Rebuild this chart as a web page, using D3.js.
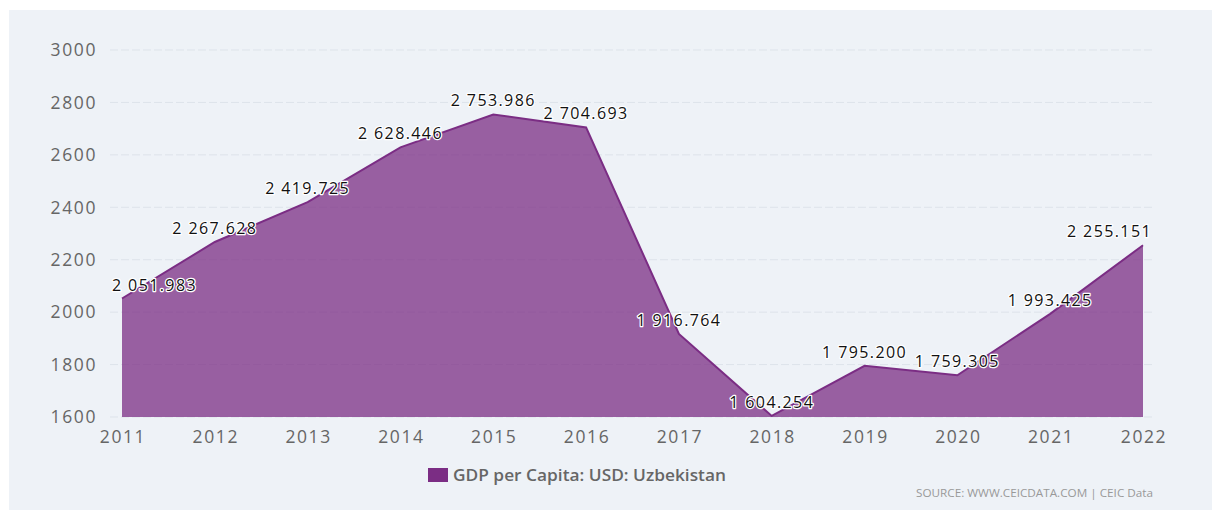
<!DOCTYPE html>
<html>
<head>
<meta charset="utf-8">
<script src="https://cdn.jsdelivr.net/npm/d3@7"></script>
<style>
  body { margin: 0; background: #fff; }
  svg { display: block; }
</style>
</head>
<body>
<div id="chart"></div>
<script>
const years = [2011, 2012, 2013, 2014, 2015, 2016, 2017, 2018, 2019, 2020, 2021, 2022];
const gdpValues = [2051.983, 2267.628, 2419.725, 2628.446, 2753.986, 2704.693, 1916.764, 1604.254, 1795.200, 1759.305, 1993.425, 2255.151];
const yTicks = [1600, 1800, 2000, 2200, 2400, 2600, 2800, 3000];
const seriesName = 'GDP per Capita: USD: Uzbekistan';
const sourceText = 'SOURCE: WWW.CEICDATA.COM | CEIC Data';

const width = 1213, height = 513;
const seriesColor = '#7b2d84';

const fmt = d3.formatLocale({decimal: '.', thousands: ' ', grouping: [3], currency: ['', '']}).format(',.3f');

const svg = d3.select('#chart').append('svg')
    .attr('width', width)
    .attr('height', height);

// panel background
svg.append('rect')
    .attr('x', 9).attr('y', 10)
    .attr('width', 1203).attr('height', 500)
    .attr('fill', '#eef2f7');

const xScale = d3.scaleLinear()
    .domain([2011, 2022])
    .range([122, 1143]);
const yScale = d3.scaleLinear()
    .domain([1600, 3000])
    .range([417, 50]);

// grid lines
svg.append('g').selectAll('line')
    .data(yTicks)
    .enter().append('line')
    .attr('x1', 110).attr('x2', 1155)
    .attr('y1', d => yScale(d)).attr('y2', d => yScale(d))
    .attr('stroke', '#dde3ea')
    .attr('stroke-width', 1)
    .attr('stroke-dasharray', '8,3');

// y labels
svg.append('g').selectAll('text')
    .data(yTicks)
    .enter().append('text')
    .attr('x', 97)
    .attr('y', d => yScale(d))
    .attr('dy', '0.36em')
    .attr('text-anchor', 'end')
    .attr('font-family', 'Open Sans')
    .attr('font-size', 17.5)
    .attr('letter-spacing', 1.6)
    .attr('fill', '#666')
    .text(d => d);

// x labels
svg.append('g').selectAll('text')
    .data(years)
    .enter().append('text')
    .attr('x', d => xScale(d) + 1)
    .attr('y', 443)
    .attr('text-anchor', 'middle')
    .attr('font-family', 'Open Sans')
    .attr('font-size', 17.5)
    .attr('letter-spacing', 1.6)
    .attr('fill', '#666')
    .text(d => d);

const points = years.map((y, i) => ({year: y, value: gdpValues[i]}));

const area = d3.area()
    .x(d => xScale(d.year))
    .y0(yScale(1600))
    .y1(d => yScale(d.value));
const line = d3.line()
    .x(d => xScale(d.year))
    .y(d => yScale(d.value));

svg.append('path')
    .datum(points)
    .attr('d', area)
    .attr('fill', seriesColor)
    .attr('fill-opacity', 0.75);
svg.append('path')
    .datum(points)
    .attr('d', line)
    .attr('fill', 'none')
    .attr('stroke', seriesColor)
    .attr('stroke-width', 2);

// data labels (kept inside plot area)
const labels = svg.append('g').selectAll('text')
    .data(points)
    .enter().append('text')
    .attr('x', d => xScale(d.year))
    .attr('y', d => yScale(d.value) - 8)
    .attr('text-anchor', 'middle')
    .attr('font-family', 'Open Sans')
    .attr('font-size', 16)
    .attr('letter-spacing', 1.4)
    .attr('fill', '#111')
    .attr('stroke', '#fff')
    .attr('stroke-width', 2.5)
    .attr('stroke-linejoin', 'round')
    .attr('paint-order', 'stroke')
    .text(d => fmt(d.value));

labels.each(function(d) {
    const w = this.getComputedTextLength();
    let cx = xScale(d.year);
    if (cx - w / 2 < 112) cx = 112 + w / 2;
    if (cx + w / 2 > 1152) cx = 1152 - w / 2;
    d3.select(this).attr('x', cx);
});

// legend
svg.append('rect')
    .attr('x', 428).attr('y', 468)
    .attr('width', 20).attr('height', 14)
    .attr('fill', seriesColor);
svg.append('text')
    .attr('x', 453).attr('y', 481)
    .attr('font-family', 'Open Sans')
    .attr('font-size', 17)
    .attr('font-weight', 600)
    .attr('fill', '#666')
    .attr('textLength', 273)
    .attr('lengthAdjust', 'spacingAndGlyphs')
    .text(seriesName);

// source
svg.append('text')
    .attr('x', 916).attr('y', 497)
    .attr('font-family', 'Open Sans')
    .attr('font-size', 11)
    .attr('fill', '#999')
    .attr('textLength', 237)
    .attr('lengthAdjust', 'spacingAndGlyphs')
    .text(sourceText);
</script>
</body>
</html>
